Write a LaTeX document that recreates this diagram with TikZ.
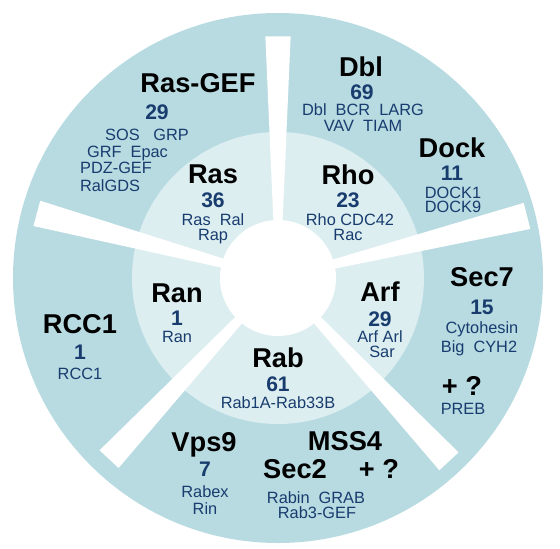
\documentclass[tikz,border=0pt]{standalone}
\usepackage{fontspec}
\setmainfont{Liberation Sans}
\usepackage{tikz}
\definecolor{ringouter}{RGB}{183,219,225}
\definecolor{ringinner}{RGB}{221,238,241}
\definecolor{genenavy}{RGB}{24,60,110}

\begin{document}
\begin{tikzpicture}[x=1cm, y=1cm,
    fam/.style={font=\fontsize{15.5}{16}\selectfont\bfseries, inner sep=0pt, anchor=base},
    num/.style={text=genenavy, font=\fontsize{12}{13}\selectfont\bfseries, inner sep=0pt, anchor=base},
    gene/.style={text=genenavy, font=\fontsize{9.3}{10}\selectfont, inner sep=0pt, anchor=base}]
  % Bildbereich
  \useasboundingbox (-5.56,-5.40) rectangle (5.64,5.56);
  % Ringe
  \fill[ringouter] (0,0) circle (5.3);
  \fill[ringinner] (0,0) circle (2.92);
  % Speichen
  \foreach \a/\r in {90/4.84, 165/5.0, 14/5.14, -47/5.02, -133/4.96}
    \fill[white] (\a-4.7:1.1) -- (\a-3:\r) -- (\a+3:\r) -- (\a+4.7:1.1) -- cycle;
  \fill[white] (0,0) circle (1.16);

  % innerer Ring: GTPasen
  \node[fam] (ras) at (-1.30,1.90) {Ras};
  \node[num] (rasN) at (-1.30,1.41) {36};
  \node[gene] (rasA) at (-1.30,1.05) {Ras\ \ Ral};
  \node[gene] (rasB) at (-1.30,0.75) {Rap};

  \node[fam] (rho) at (1.40,1.88) {Rho};
  \node[num] (rhoN) at (1.40,1.41) {23};
  \node[gene] (rhoA) at (1.44,1.05) {Rho CDC42};
  \node[gene] (rhoB) at (1.40,0.75) {Rac};

  \node[fam] (ran) at (-2.02,-0.48) {Ran};
  \node[num] (ranN) at (-2.02,-0.95) {1};
  \node[gene] (ranA) at (-2.02,-1.29) {Ran};

  \node[fam] (arf) at (2.04,-0.46) {Arf};
  \node[num] (arfN) at (2.04,-0.97) {29};
  \node[gene] (arfA) at (2.04,-1.29) {Arf Arl};
  \node[gene] (arfB) at (2.08,-1.59) {Sar};

  \node[fam] (rab) at (0,-1.78) {Rab};
  \node[num] (rabN) at (0,-2.27) {61};
  \node[gene] (rabA) at (0,-2.61) {Rab1A-Rab33B};

  % aeusserer Ring: GEFs
  \node[fam] (rasgef) at (-1.60,3.72) {Ras-GEF};
  \node[num] (rasgefN) at (-2.42,3.17) {29};
  \node[gene] (rasgefA) at (-2.62,2.75) {SOS\ \ \ GRP};
  \node[gene] (rasgefB) at (-3.01,2.41) {GRF\ \ Epac};
  \node[gene] (rasgefC) at (-3.24,2.09) {PDZ-GEF};
  \node[gene] (rasgefD) at (-3.36,1.73) {RalGDS};

  \node[fam] (dbl) at (1.66,4.04) {Dbl};
  \node[num] (dblN) at (1.68,3.57) {69};
  \node[gene] (dblA) at (1.70,3.25) {Dbl\ \ BCR\ \ LARG};
  \node[gene] (dblB) at (1.70,2.93) {VAV\ \ TIAM};

  \node[fam] (dock) at (3.48,2.42) {Dock};
  \node[num] (dockN) at (3.48,1.95) {11};
  \node[gene] (dockA) at (3.50,1.59) {DOCK1};
  \node[gene] (dockB) at (3.50,1.31) {DOCK9};

  \node[fam] (sec7) at (4.08,-0.16) {Sec7};
  \node[num] (sec7N) at (4.08,-0.73) {15};
  \node[gene] (sec7A) at (4.08,-1.11) {Cytohesin};
  \node[gene] (sec7B) at (4.02,-1.49) {Big\ \ CYH2};
  \node[fam] (sec7Q) at (3.68,-2.34) {+ ?};
  \node[gene] (sec7C) at (3.70,-2.73) {PREB};

  \node[fam] (mss4) at (1.34,-3.44) {MSS4};
  \node[fam] (sec2) at (0.34,-4.00) {Sec2};
  \node[fam] (sec2Q) at (2.02,-4.00) {+ ?};
  \node[gene] (sec2A) at (0.76,-4.51) {Rabin\ \ GRAB};
  \node[gene] (sec2B) at (0.78,-4.81) {Rab3-GEF};

  \node[fam] (vps9) at (-1.48,-3.46) {Vps9};
  \node[num] (vps9N) at (-1.46,-3.97) {7};
  \node[gene] (vps9A) at (-1.46,-4.39) {Rabex};
  \node[gene] (vps9B) at (-1.46,-4.73) {Rin};

  \node[fam] (rcc1) at (-3.96,-1.10) {RCC1};
  \node[num] (rcc1N) at (-3.96,-1.63) {1};
  \node[gene] (rcc1A) at (-3.96,-2.03) {RCC1};
\end{tikzpicture}
\end{document}
